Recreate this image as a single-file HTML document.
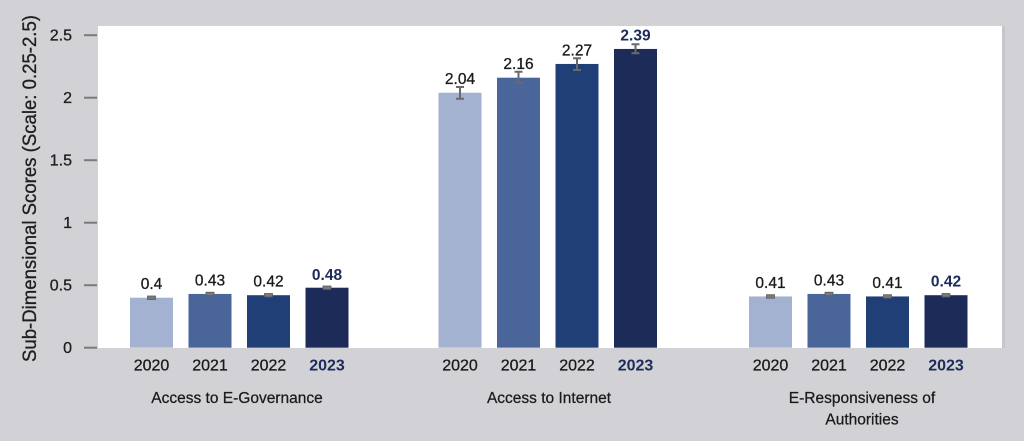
<!DOCTYPE html>
<html><head><meta charset="utf-8"><style>
html,body{margin:0;padding:0;background:#d2d2d6;}
svg{display:block;}
text{font-family:"Liberation Sans",Arial,sans-serif;}
</style></head><body>
<svg width="1024" height="441" viewBox="0 0 1024 441" xmlns="http://www.w3.org/2000/svg">
<rect x="0" y="0" width="1024" height="441" fill="#d2d2d6"/>
<rect x="1002" y="26" width="3" height="322" fill="#c6c6ca"/>
<rect x="98" y="26" width="904" height="322" fill="#ffffff"/>

<!-- y axis ticks -->
<g stroke="#7a7a7a" stroke-width="2">
<line x1="84" y1="35.2" x2="97" y2="35.2"/>
<line x1="84" y1="97.7" x2="97" y2="97.7"/>
<line x1="84" y1="160.2" x2="97" y2="160.2"/>
<line x1="84" y1="222.7" x2="97" y2="222.7"/>
<line x1="84" y1="285.2" x2="97" y2="285.2"/>
<line x1="84" y1="347.7" x2="97" y2="347.7"/>
</g>
<g font-size="16" fill="#1e1e1e" stroke="#1e1e1e" stroke-width="0.3" text-anchor="end">
<text x="72" y="40.5">2.5</text>
<text x="72" y="103">2</text>
<text x="72" y="165.5">1.5</text>
<text x="72" y="228">1</text>
<text x="72" y="290.5">0.5</text>
<text x="72" y="353">0</text>
</g>
<text transform="translate(36,188.5) rotate(-90)" text-anchor="middle" font-size="19" fill="#1e1e1e" stroke="#1e1e1e" stroke-width="0.3" textLength="347" lengthAdjust="spacingAndGlyphs">Sub-Dimensional Scores (Scale: 0.25-2.5)</text>

<!-- bars group 1 -->
<rect x="130" y="297.7" width="43" height="50" fill="#a4b2d2"/>
<rect x="188.5" y="293.95" width="43" height="53.75" fill="#4a6599"/>
<rect x="247" y="295.2" width="43" height="52.5" fill="#203f77"/>
<rect x="305.5" y="287.7" width="43" height="60" fill="#1d2b58"/>
<!-- group 2 -->
<rect x="438.5" y="92.7" width="43" height="255" fill="#a4b2d2"/>
<rect x="497" y="77.7" width="43" height="270" fill="#4a6599"/>
<rect x="555.5" y="63.95" width="43" height="283.75" fill="#203f77"/>
<rect x="614" y="48.95" width="43" height="298.75" fill="#1d2b58"/>
<!-- group 3 -->
<rect x="749" y="296.45" width="43" height="51.25" fill="#a4b2d2"/>
<rect x="807.5" y="293.95" width="43" height="53.75" fill="#4a6599"/>
<rect x="866" y="296.45" width="43" height="51.25" fill="#203f77"/>
<rect x="924.5" y="295.2" width="43" height="52.5" fill="#1d2b58"/>

<!-- small error bars -->
<g fill="#7a7a7a" stroke="#5a5a5a" stroke-width="0.8">
<rect x="147.5" y="296" width="8" height="3.5"/>
<rect x="206" y="292.2" width="8" height="3.5"/>
<rect x="264.5" y="293.5" width="8" height="3.5"/>
<rect x="323" y="286" width="8" height="3.5"/>
<rect x="766.5" y="294.7" width="8" height="3.5"/>
<rect x="825" y="292.2" width="8" height="3.5"/>
<rect x="883.5" y="294.7" width="8" height="3.5"/>
<rect x="942" y="293.5" width="8" height="3.5"/>
</g>
<!-- large error bars -->
<g stroke="#6a6a6a" stroke-width="2" fill="none">
<path d="M456 87 H464 M460 87 V98.7 M456 98.7 H464"/>
<path d="M514.5 71.7 H522.5 M518.5 71.7 V82.7 M514.5 82.7 H522.5"/>
<path d="M573 58.3 H581 M577 58.3 V70 M573 70 H581"/>
<path d="M631.5 44.3 H639.5 M635.5 44.3 V53.3 M631.5 53.3 H639.5"/>
</g>

<!-- value labels -->
<g font-size="15.5" fill="#1a1a1a" stroke="#1a1a1a" stroke-width="0.3" text-anchor="middle">
<text x="151.5" y="289.2">0.4</text>
<text x="210" y="285.5">0.43</text>
<text x="268.5" y="286.7">0.42</text>
<text x="460" y="84.2">2.04</text>
<text x="518.5" y="69.2">2.16</text>
<text x="577" y="55.5">2.27</text>
<text x="770.5" y="288">0.41</text>
<text x="829" y="285.5">0.43</text>
<text x="887.5" y="288">0.41</text>
</g>
<g font-size="15.5" fill="#1d2b5a" text-anchor="middle" font-weight="bold">
<text x="327" y="280">0.48</text>
<text x="635.5" y="40.5">2.39</text>
<text x="946" y="286.7">0.42</text>
</g>

<!-- year labels -->
<g font-size="16" fill="#1a1a1a" stroke="#1a1a1a" stroke-width="0.3" text-anchor="middle">
<text x="151.5" y="370.5">2020</text>
<text x="210" y="370.5">2021</text>
<text x="268.5" y="370.5">2022</text>
<text x="460" y="370.5">2020</text>
<text x="518.5" y="370.5">2021</text>
<text x="577" y="370.5">2022</text>
<text x="770.5" y="370.5">2020</text>
<text x="829" y="370.5">2021</text>
<text x="887.5" y="370.5">2022</text>
</g>
<g font-size="16" fill="#1d2b5a" text-anchor="middle" font-weight="bold">
<text x="327" y="370.5">2023</text>
<text x="635.5" y="370.5">2023</text>
<text x="946" y="370.5">2023</text>
</g>

<!-- category labels -->
<g font-size="15.5" fill="#1a1a1a" stroke="#1a1a1a" stroke-width="0.25" text-anchor="middle">
<text x="237" y="403">Access to E-Governance</text>
<text x="549" y="403">Access to Internet</text>
<text x="862" y="403">E-Responsiveness of</text>
<text x="862" y="424.5">Authorities</text>
</g>
</svg>
</body></html>
